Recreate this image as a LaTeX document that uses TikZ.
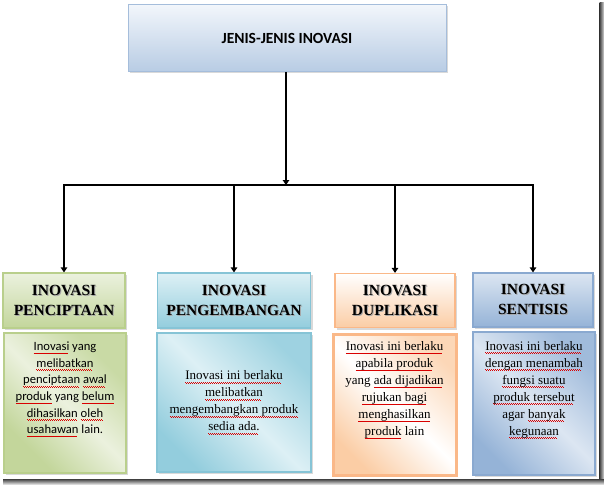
\documentclass[tikz,border=0pt]{standalone}
\usepackage{fontspec}
\setmainfont{Liberation Serif}
\newfontfamily\carlito{Carlito}
\usetikzlibrary{arrows.meta,shadows,positioning}

\newsavebox\sqbox
\newcommand\sq[1]{\leavevmode\sbox\sqbox{#1}\rlap{\textcolor{red!85!black}{\leaders\hbox to 2pt{\vrule width 1pt height -2.0pt depth 2.7pt\vrule width 1pt height -2.7pt depth 3.4pt}\hskip\wd\sqbox}}\usebox\sqbox}
\newcommand\shd[1]{\leavevmode\rlap{\hskip1pt\raisebox{-1pt}{\textcolor{black!35}{#1}}}#1}

\definecolor{tTop}{HTML}{F2F6FB}
\definecolor{tBot}{HTML}{B8CCE4}
\definecolor{tBrd}{HTML}{A5BDDB}
\definecolor{gLt}{HTML}{EBF1DE}
\definecolor{gDk}{HTML}{C3D69B}
\definecolor{gBrd}{HTML}{B9CF8C}
\definecolor{aLt}{HTML}{DDF0F5}
\definecolor{aDk}{HTML}{93CDDD}
\definecolor{aBrd}{HTML}{86C4D6}
\definecolor{oLt}{HTML}{FFFFFF}
\definecolor{oDk}{HTML}{FBCDA5}
\definecolor{oBrd}{HTML}{FAB888}
\definecolor{bLt}{HTML}{DCE6F2}
\definecolor{bDk}{HTML}{95B3D7}
\definecolor{bBrd}{HTML}{8AA9D0}

\pgfdeclarehorizontalshading{gmid}{100bp}{color(0bp)=(gDk); color(28bp)=(gDk); color(50bp)=(gLt); color(72bp)=(gDk!85!gLt); color(100bp)=(gDk!85!gLt)}
\pgfdeclarehorizontalshading{amid}{100bp}{color(0bp)=(aDk); color(25bp)=(aDk); color(50bp)=(aLt); color(75bp)=(aDk!85!aLt); color(100bp)=(aDk!85!aLt)}
\pgfdeclarehorizontalshading{omid}{100bp}{color(0bp)=(oDk); color(25bp)=(oDk); color(50bp)=(oLt); color(75bp)=(oDk!80!oLt); color(100bp)=(oDk!80!oLt)}
\pgfdeclarehorizontalshading{bmid}{100bp}{color(0bp)=(bDk); color(25bp)=(bDk); color(50bp)=(bLt); color(75bp)=(bDk!85!bLt); color(100bp)=(bDk!85!bLt)}

\tikzset{
  box/.style={rectangle, inner sep=0pt, align=center,
    drop shadow={shadow xshift=2pt, shadow yshift=-2pt, opacity=0.3}},
  hdr/.style={box, line width=1.2pt,
    font=\bfseries\fontsize{15.5}{20}\selectfont},
  bdy/.style={box, line width=2.2pt, shading angle=45},
  btext/.style={inner sep=0pt, align=center, font=\fontsize{13}{17}\selectfont},
  arr/.style={line width=2pt, -{Triangle[length=5pt,width=6.5pt]}},
  conn/.style={line width=2pt}
}

\begin{document}
\begin{tikzpicture}[x=1pt,y=-1pt]
\useasboundingbox (0,0) rectangle (604,484);

% frame shadow
\shade[left color=black!75, right color=black!15] (599.5,3) rectangle (604,484);
\shade[top color=black!75, bottom color=black!15] (3,479) rectangle (604,484);

% title
\node[box, draw=tBrd, line width=1pt, top color=tTop, bottom color=tBot,
  minimum width=318pt, minimum height=67pt,
  font=\carlito\bfseries\fontsize{15.5}{18}\selectfont] (T) at (287,38) {JENIS-JENIS INOVASI};

% headers
\node[hdr, draw=gBrd, top color=gLt, bottom color=gDk, minimum width=122pt, minimum height=55pt]
  (h1) at (64,300.5) {\shd{INOVASI}\\\shd{PENCIPTAAN}};
\node[hdr, draw=aBrd, top color=aLt, bottom color=aDk, minimum width=153pt, minimum height=55pt]
  (h2) at (234,300.5) {\shd{INOVASI}\\\shd{PENGEMBANGAN}};
\node[hdr, draw=oBrd, top color=oLt, bottom color=oDk, minimum width=120pt, minimum height=54pt]
  (h3) at (395,300.5) {\shd{INOVASI}\\\shd{DUPLIKASI}};
\node[hdr, draw=bBrd, top color=bLt, bottom color=bDk, minimum width=120pt, minimum height=54pt]
  (h4) at (533,300) {\shd{INOVASI}\\\shd{SENTISIS}};

% bodies
\node[bdy, draw=gBrd, shading=gmid, minimum width=122pt, minimum height=140pt]
  (b1) at (65,403) {};
\node[bdy, draw=aBrd, shading=amid, minimum width=154pt, minimum height=139pt]
  (b2) at (234,402.5) {};
\node[bdy, draw=oBrd, line width=3pt, shading=omid, minimum width=123pt, minimum height=141pt]
  (b3) at (394.5,404.5) {};
\node[bdy, draw=bBrd, shading=bmid, minimum width=122pt, minimum height=143pt]
  (b4) at (534,403.5) {};

% body texts
\node[btext, font=\carlito\fontsize{12.6}{16.6}\selectfont, below=10pt of b1.north] (t1)
  {\sq{Inovasi} yang\\ \sq{melibatkan}\\ \sq{penciptaan} \sq{awal}\\ \sq{produk} yang \sq{belum}\\ \sq{dihasilkan} \sq{oleh}\\ \sq{usahawan} lain.};
\node[btext] (t2) at (b2.center)
  {\sq{Inovasi ini berlaku}\\ \sq{melibatkan}\\ \sq{mengembangkan produk}\\ \sq{sedia ada.}};
\node[btext, below=9pt of b3.north] (t3)
  {\sq{Inovasi ini berlaku}\\ \sq{apabila produk}\\ yang \sq{ada dijadikan}\\ \sq{rujukan bagi}\\ \sq{menghasilkan}\\ \sq{produk} lain};
\node[btext, below=10pt of b4.north] (t4)
  {\sq{Inovasi ini berlaku}\\ \sq{dengan menambah}\\ \sq{fungsi suatu}\\ \sq{produk tersebut}\\ agar \sq{banyak}\\ \sq{kegunaan}};

% connectors
\coordinate (j) at (286,185);
\coordinate (jl) at (h1.north |- j);
\coordinate (jr) at (h4.north |- j);
\draw[arr] (T.south -| j) -- (j);
\draw[conn, line cap=rect] (jl) -- (jr);
\draw[arr] (jl) -- (h1.north);
\draw[arr] (h2.north |- j) -- (h2.north);
\draw[arr] (h3.north |- j) -- (h3.north);
\draw[arr] (jr) -- (h4.north);
\end{tikzpicture}
\end{document}
